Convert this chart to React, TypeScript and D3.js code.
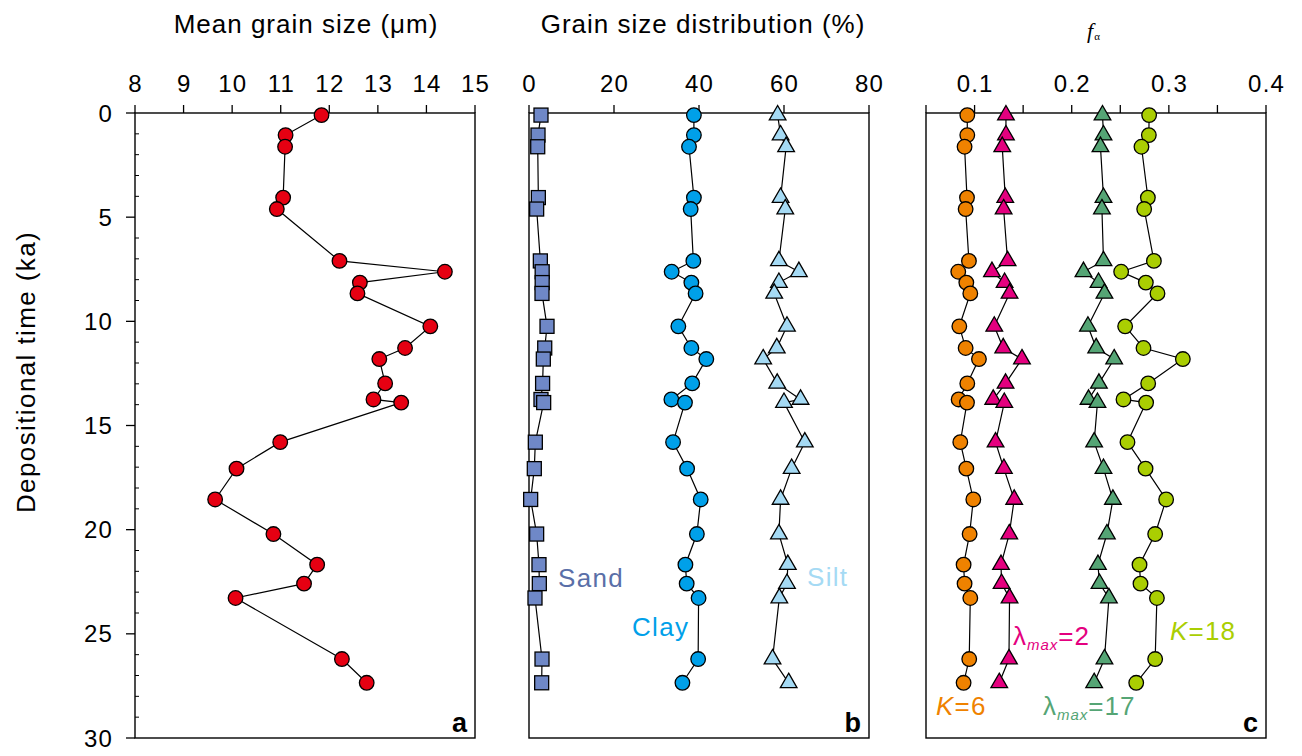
import React from 'react';
import * as d3 from 'd3';

// depth (ka) of each sample, shared by all three panels
const times = [0.1, 1.06, 1.62, 4.06, 4.61, 7.1, 7.62, 8.14, 8.66, 10.24, 11.28, 11.81, 12.98, 13.75, 13.9, 15.8, 17.07, 18.55, 20.21, 21.68, 22.59, 23.28, 26.21, 27.35];

const meanGrain = [11.84, 11.1, 11.09, 11.05, 10.92, 12.21, 14.38, 12.63, 12.58, 14.08, 13.56, 13.03, 13.15, 12.91, 13.48, 10.99, 10.09, 9.65, 10.85, 11.75, 11.48, 10.07, 12.26, 12.77];

const sand = [2.82, 2.12, 2.05, 2.2, 1.8, 2.67, 3.1, 3.1, 3.06, 4.24, 3.7, 3.37, 3.2, 2.82, 3.45, 1.49, 1.25, 0.39, 1.8, 2.35, 2.43, 1.41, 3.06, 2.98];
const clay = [38.8, 38.8, 37.65, 38.8, 38.04, 38.67, 33.57, 38.2, 39.2, 35.14, 38.2, 41.72, 38.4, 33.5, 36.7, 33.9, 37.2, 40.4, 39.5, 36.8, 37.1, 39.9, 39.8, 36.1];
const silt = [58.5, 59.2, 60.5, 59.2, 60.3, 58.8, 63.5, 58.8, 57.7, 60.7, 58.3, 55.1, 58.4, 63.9, 60.0, 64.9, 61.8, 59.2, 58.8, 60.9, 60.7, 58.9, 57.3, 61.1];

const k6 = [0.0925, 0.0925, 0.0897, 0.0922, 0.0908, 0.0942, 0.0832, 0.0915, 0.0956, 0.0843, 0.0908, 0.1045, 0.0925, 0.0836, 0.0922, 0.0853, 0.0915, 0.0987, 0.0949, 0.0887, 0.0897, 0.0956, 0.0945, 0.0887];
const lam2 = [0.1323, 0.1323, 0.1285, 0.1316, 0.1299, 0.134, 0.1179, 0.1309, 0.136, 0.1203, 0.1295, 0.1488, 0.1319, 0.1192, 0.1306, 0.1216, 0.1302, 0.1408, 0.1357, 0.1272, 0.1278, 0.136, 0.1354, 0.1254];
const lam17 = [0.2317, 0.2327, 0.2296, 0.2327, 0.2311, 0.2327, 0.2121, 0.2276, 0.2337, 0.2167, 0.2252, 0.2437, 0.228, 0.2173, 0.2265, 0.2231, 0.2327, 0.2424, 0.2362, 0.227, 0.2286, 0.2383, 0.2337, 0.2231];
const k18 = [0.2797, 0.2794, 0.2718, 0.2784, 0.2746, 0.2846, 0.2509, 0.2763, 0.2883, 0.255, 0.2739, 0.3144, 0.2787, 0.2533, 0.2766, 0.2574, 0.276, 0.2972, 0.2859, 0.2698, 0.2708, 0.2877, 0.2859, 0.2664];

const meanTicks = [8, 9, 10, 11, 12, 13, 14, 15];
const pctTicks = [0, 20, 40, 60, 80];
const faTicks = [0.05, 0.1, 0.15, 0.2, 0.25, 0.3, 0.35, 0.4];
const faLabels = ['', '0.1', '', '0.2', '', '0.3', '', '0.4'];
const timeTicks = d3.range(0, 31);

const W = 1302, H = 756;
const top = 113, bottom = 738;
const FONT = '"Liberation Sans", Arial, Helvetica, sans-serif';

const y = d3.scaleLinear().domain([0, 30]).range([top, bottom]);
const xA = d3.scaleLinear().domain([8, 15]).range([135, 475]);
const xB = d3.scaleLinear().domain([0, 80]).range([529, 869]);
const xC = d3.scaleLinear().domain([0.05, 0.4]).range([926, 1266]);

const tri = d3.symbol(d3.symbolTriangle, 120)();

type Shape = 'circle' | 'square' | 'triangle';

const Series = ({ vals, x, shape, fill }: { vals: number[]; x: d3.ScaleLinear<number, number>; shape: Shape; fill: string }) => {
  const pts = vals.map((v, i) => [x(v), y(times[i])] as [number, number]);
  const path = d3.line()(pts) || '';
  return (
    <g>
      <path d={path} fill="none" stroke="#000" strokeWidth={1.2} />
      {pts.map(([px, py], i) => {
        if (shape === 'circle') return <circle key={i} cx={px} cy={py} r={7.3} fill={fill} stroke="#000" strokeWidth={1.3} />;
        if (shape === 'square') return <rect key={i} x={px - 7} y={py - 7} width={14} height={14} fill={fill} stroke="#000" strokeWidth={1.3} />;
        return <path key={i} d={tri} transform={`translate(${px},${py})`} fill={fill} stroke="#000" strokeWidth={1.3} />;
      })}
    </g>
  );
};

const Frame = ({ x, ticks, labels }: { x: d3.ScaleLinear<number, number>; ticks: number[]; labels: string[] }) => {
  const [x0, x1] = x.range();
  return (
    <g>
      <rect x={x0} y={top} width={x1 - x0} height={bottom - top} fill="none" stroke="#000" strokeWidth={1.4} />
      {ticks.map((t, i) => (
        <g key={i}>
          <line x1={x(t)} x2={x(t)} y1={top} y2={top - 8} stroke="#000" strokeWidth={1.3} />
          <text x={x(t)} y={92} textAnchor="middle" fontSize={24} letterSpacing={1.2} dx={0.6} fontFamily={FONT}>{labels[i]}</text>
        </g>
      ))}
    </g>
  );
};

export default function App() {
  return (
    <svg width={W} height={H} style={{ position: 'absolute', left: 0, top: 0, background: '#fff' }} fontFamily={FONT}>
      {/* titles */}
      <text x={306} y={33} textAnchor="middle" fontSize={26} letterSpacing={1}>Mean grain size (μm)</text>
      <text x={703} y={33} textAnchor="middle" fontSize={26} letterSpacing={1}>Grain size distribution (%)</text>
      <text x={1087} y={38} fontFamily='"Liberation Serif", "Times New Roman", serif' fontStyle="italic" fontSize={22}>
        f<tspan fontStyle="normal" fontSize={11} dx={1} dy={2}>α</tspan>
      </text>
      <text transform="translate(35,372) rotate(-90)" textAnchor="middle" fontSize={26} letterSpacing={1.4}>Depositional time (ka)</text>

      {/* left axis */}
      {timeTicks.map(t => t % 5 === 0 ? (
        <g key={t}>
          <line x1={126} x2={135} y1={y(t)} y2={y(t)} stroke="#000" strokeWidth={1.3} />
          <text x={113} y={y(t)} dy="0.36em" textAnchor="end" fontSize={24} letterSpacing={1.2}>{t}</text>
        </g>
      ) : (
        <line key={t} x1={135} x2={139} y1={y(t)} y2={y(t)} stroke="#000" strokeWidth={1} />
      ))}

      <Frame x={xA} ticks={meanTicks} labels={meanTicks.map(String)} />
      <Frame x={xB} ticks={pctTicks} labels={pctTicks.map(String)} />
      <Frame x={xC} ticks={faTicks} labels={faLabels} />

      {/* panel a */}
      <Series vals={meanGrain} x={xA} shape="circle" fill="#E60012" />

      {/* panel b */}
      <Series vals={sand} x={xB} shape="square" fill="#6F88C7" />
      <Series vals={clay} x={xB} shape="circle" fill="#00A0E9" />
      <Series vals={silt} x={xB} shape="triangle" fill="#A5DAF4" />
      <text x={558} y={587} fontSize={26} letterSpacing={1.3} fill="#5A6FA8">Sand</text>
      <text x={632} y={636} fontSize={26} letterSpacing={1.3} fill="#00A0E9">Clay</text>
      <text x={807} y={586} fontSize={26} letterSpacing={1.3} fill="#A5DAF4">Silt</text>

      {/* panel c */}
      <Series vals={k6} x={xC} shape="circle" fill="#EF8200" />
      <Series vals={lam2} x={xC} shape="triangle" fill="#E4007F" />
      <Series vals={lam17} x={xC} shape="triangle" fill="#55A575" />
      <Series vals={k18} x={xC} shape="circle" fill="#AACE02" />
      <text x={936} y={715} fontSize={26} letterSpacing={1.2} fill="#EF8200"><tspan fontStyle="italic">K</tspan>=6</text>
      <text x={1013} y={645} fontSize={26} letterSpacing={1} fill="#E4007F">λ<tspan fontStyle="italic" fontSize={15} dy={5}>max</tspan><tspan dy={-5}>=2</tspan></text>
      <text x={1043} y={715} fontSize={26} letterSpacing={1} fill="#55A575">λ<tspan fontStyle="italic" fontSize={15} dy={5}>max</tspan><tspan dy={-5}>=17</tspan></text>
      <text x={1170} y={640} fontSize={26} letterSpacing={1.2} fill="#AACE02"><tspan fontStyle="italic">K</tspan>=18</text>

      {/* panel letters */}
      <text x={467} y={732} textAnchor="end" fontSize={27} fontWeight="bold">a</text>
      <text x={861} y={732} textAnchor="end" fontSize={27} fontWeight="bold">b</text>
      <text x={1258} y={732} textAnchor="end" fontSize={27} fontWeight="bold">c</text>
    </svg>
  );
}
